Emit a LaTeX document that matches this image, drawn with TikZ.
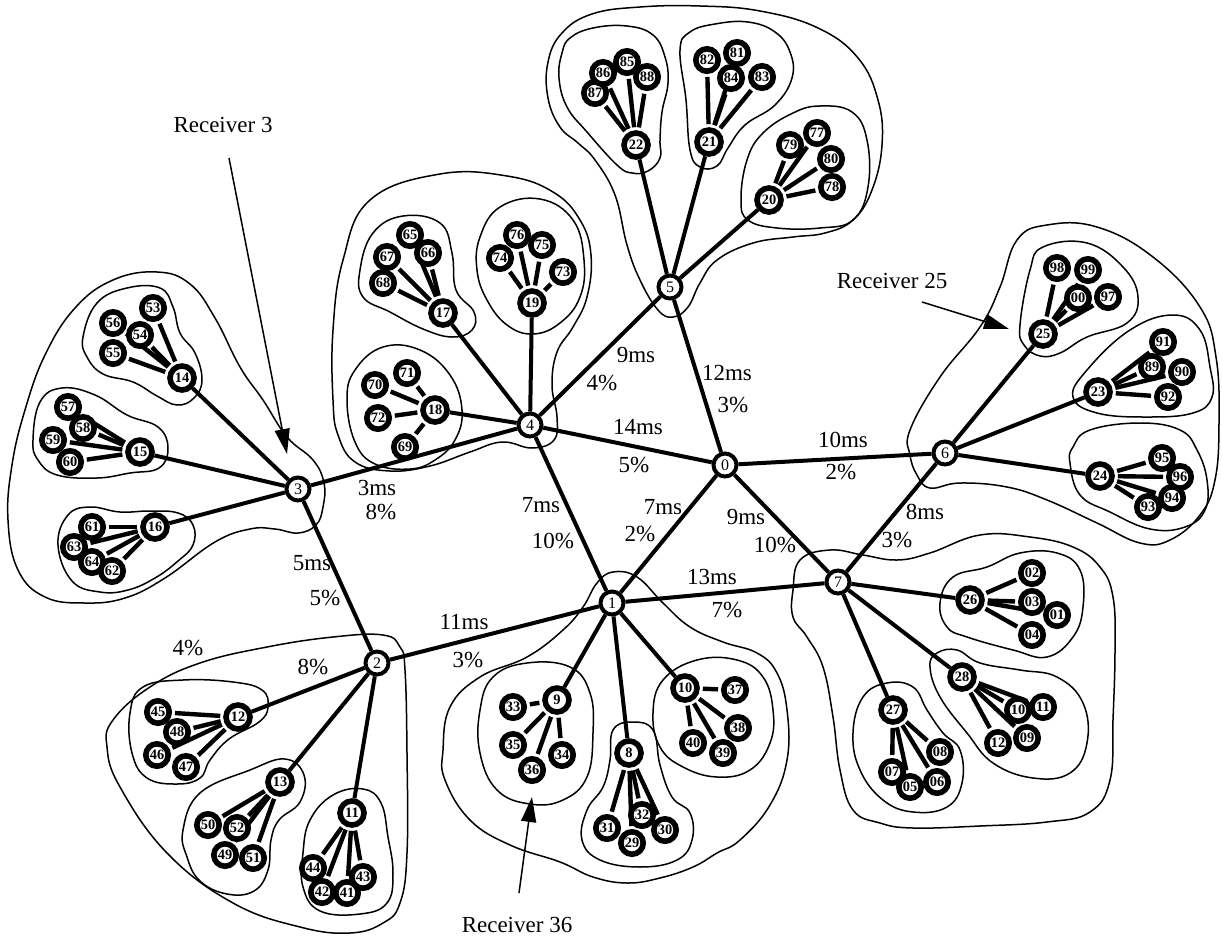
\documentclass[tikz,border=0pt]{standalone}
\usepackage{fontspec}
\setmainfont{Liberation Serif}
\usetikzlibrary{arrows.meta}
\pgfdeclarelayer{back}
\pgfsetlayers{back,main}
\newcommand\lblfont{\fontsize{11.5}{13}\selectfont}
\newcommand\hubfont{\fontsize{8}{9}\selectfont}
\newcommand\leaffont{\fontsize{7.2}{8}\selectfont\bfseries}
\begin{document}
\begin{tikzpicture}[x=0.5pt,y=-0.5pt,
  hub/.style={circle,draw,line width=2pt,fill=white,minimum size=11.5pt,inner sep=0pt,font=\hubfont},
  mid/.style={circle,draw,line width=2.8pt,fill=white,minimum size=12pt,inner sep=0pt,font=\leaffont},
  leaf/.style={circle,draw,line width=2.8pt,fill=white,minimum size=11.2pt,inner sep=0pt,font=\leaffont},
  link/.style={line width=2pt},
  twig/.style={line width=2.2pt,shorten <=1.5pt,shorten >=1.5pt},
  blob/.style={line width=0.75pt},
  lbl/.style={font=\lblfont,inner sep=0pt},
  pointer/.style={line width=0.75pt,-{Triangle[length=12.5pt,width=7.5pt]}}]
\useasboundingbox (0,0) rectangle (1222,938);

% backbone routers
\node[hub] (n0) at (725,465) {0};
\node[hub] (n1) at (612,603) {1};
\node[hub] (n2) at (377,663) {2};
\node[hub] (n3) at (298,489) {3};
\node[hub] (n4) at (530,425) {4};
\node[hub] (n5) at (670,287) {5};
\node[hub] (n6) at (945,453) {6};
\node[hub] (n7) at (838,582) {7};

% second-level routers
\foreach \n/\x/\y in {22/636/145,21/709/142,20/769/200,
  17/443/313,19/532/303,18/435/410,
  14/182/378,15/140/452,16/155/527,
  12/238/717,13/280/782,11/352/813,
  9/557/700,8/629/753,10/685/688,
  25/1043/334,23/1098/392,24/1100/476,
  26/970/600,28/962/677,27/893/710}
  \node[mid] (n\n) at (\x,\y) {\n};

% receivers
\foreach \n/\x/\y/\t in {
  87/595/93/87,86/603/73/86,85/627/62/85,88/647/77/88,
  82/707/60/82,81/737/53/81,84/731/78/84,83/762/77/83,
  79/790/145/79,77/817/133/77,80/831/159/80,78/832/187/78,
  65/410/235/65,67/387/257/67,66/428/253/66,68/383/283/68,
  76/517/235/76,75/542/245/75,74/500/258/74,73/563/272/73,
  70/375/385/70,71/407/373/71,72/378/418/72,69/405/447/69,
  53/153/308/53,56/113/323/56,54/140/335/54,55/113/353/55,
  57/68/407/57,58/83/428/58,59/53/440/59,60/70/462/60,
  61/92/527/61,63/74/547/63,64/92/562/64,62/112/571/62,
  45/158/712/45,48/177/732/48,46/157/755/46,47/186/767/47,
  50/208/825/50,52/237/828/52,49/225/855/49,51/253/858/51,
  44/313/868/44,42/322/892/42,41/347/893/41,43/363/877/43,
  33/513/707/33,35/513/745/35,36/532/770/36,34/562/755/34,
  31/607/828/31,32/642/815/32,30/665/830/30,29/632/843/29,
  37/735/690/37,38/738/728/38,39/723/753/39,40/693/743/40,
  98/1057/268/98,99/1088/270/99,100/1078/298/00,97/1108/297/97,
  91/1163/342/91,89/1152/367/89,90/1182/372/90,92/1168/397/92,
  95/1162/458/95,96/1180/477/96,94/1172/498/94,93/1148/507/93,
  102/1032/573/02,103/1032/602/03,101/1057/615/01,104/1032/635/04,
  110/1018/710/10,111/1043/707/11,112/998/743/12,109/1027/738/09,
  108/940/752/08,107/892/772/07,105/910/787/05,106/937/782/06}
  \node[leaf] (l\n) at (\x,\y) {\t};

\begin{pgfonlayer}{back}
% domain outlines
\draw[blob] plot[smooth cycle,tension=0.7] coordinates {(560,127) (548,98) (548,62) (562,33) (592,14) (640,7) (700,6) (760,11) (818,28) (858,58) (878,100) (882,145) (872,190) (853,220) (825,233) (793,237) (753,243) (717,260) (700,283) (688,307) (673,317) (658,310) (640,280) (627,245) (615,195) (595,160) (578,143)};
\draw[blob] plot[smooth cycle,tension=0.7] coordinates {(562,53) (570,38) (593,28) (627,26) (653,35) (665,57) (668,83) (662,112) (660,140) (660,158) (648,171) (632,173) (617,165) (587,132) (567,107) (559,78)};
\draw[blob] plot[smooth cycle,tension=0.7] coordinates {(680,50) (690,32) (715,24) (748,22) (775,32) (790,52) (792,78) (775,105) (745,125) (728,148) (717,166) (700,167) (690,150) (686,100)};
\draw[blob] plot[smooth cycle,tension=0.7] coordinates {(747,160) (763,133) (793,113) (820,106) (852,112) (867,140) (868,187) (853,220) (820,228) (777,228) (748,220) (741,200)};
\draw[blob] plot[smooth cycle,tension=0.7] coordinates {(333,400) (333,330) (343,260) (370,200) (440,174) (507,176) (553,192) (580,220) (591,255) (587,297) (573,327) (557,352) (552,385) (557,417) (554,440) (532,448) (502,442) (470,452) (430,466) (390,471) (355,462) (338,435)};
\draw[blob] plot[smooth cycle,tension=0.7] coordinates {(360,270) (373,233) (403,216) (440,223) (452,253) (456,290) (474,312) (472,330) (452,337) (423,329) (390,312) (363,297)};
\draw[blob] plot[smooth cycle,tension=0.7] coordinates {(477,270) (480,237) (500,207) (540,199) (573,220) (584,260) (580,297) (560,323) (533,334) (507,325) (487,300)};
\draw[blob] plot[smooth cycle,tension=0.7] coordinates {(347,400) (355,370) (383,347) (420,350) (450,375) (462,410) (455,440) (435,460) (410,469) (375,464) (355,442)};
\draw[blob] plot[smooth cycle,tension=0.7] coordinates {(113,280) (157,272) (190,284) (215,318) (240,367) (263,400) (287,437) (313,460) (324,483) (323,507) (316,525) (298,533) (275,529) (250,529) (215,542) (165,578) (125,598) (85,603) (45,597) (18,570) (8,520) (12,465) (25,410) (45,355) (75,308)};
\draw[blob] plot[smooth cycle,tension=0.7] coordinates {(83,337) (97,303) (127,288) (160,288) (173,307) (180,333) (195,353) (202,380) (194,398) (177,405) (157,396) (133,382) (103,374) (87,357)};
\draw[blob] plot[smooth cycle,tension=0.7] coordinates {(33,440) (40,402) (62,388) (95,395) (127,415) (158,427) (168,448) (159,468) (130,473) (97,478) (57,475) (38,460)};
\draw[blob] plot[smooth cycle,tension=0.7] coordinates {(58,545) (68,515) (90,507) (120,512) (150,511) (178,513) (193,525) (193,545) (178,561) (155,578) (128,590) (100,592) (72,581)};
\draw[blob] plot[smooth cycle,tension=0.7] coordinates {(383,635) (400,647) (405,670) (407,753) (407,853) (400,903) (383,923) (350,933) (300,927) (233,903) (167,853) (120,787) (107,747) (113,720) (150,687) (200,663) (267,647) (333,637)};
\draw[blob] plot[smooth cycle,tension=0.7] coordinates {(130,713) (143,687) (183,680) (233,682) (262,690) (268,707) (259,722) (229,739) (210,760) (200,778) (177,784) (147,778) (132,753)};
\draw[blob] plot[smooth cycle,tension=0.7] coordinates {(183,830) (200,793) (250,770) (285,759) (304,775) (300,802) (279,820) (271,840) (268,870) (254,891) (227,894) (200,881) (187,857)};
\draw[blob] plot[smooth cycle,tension=0.7] coordinates {(303,853) (310,820) (333,795) (363,789) (381,803) (388,837) (393,873) (387,903) (360,914) (320,911) (303,887)};
\draw[blob] plot[smooth cycle,tension=0.7] coordinates {(583,607) (597,583) (613,572) (637,577) (663,603) (690,627) (723,642) (757,653) (777,673) (787,710) (787,760) (770,805) (740,840) (717,853) (693,867) (660,878) (627,883) (593,877) (560,862) (510,845) (470,820) (445,780) (443,750) (450,707) (480,677) (527,657) (563,630)};
\draw[blob] plot[smooth cycle,tension=0.7] coordinates {(480,710) (493,677) (527,663) (570,667) (590,693) (593,733) (587,777) (563,800) (530,804) (497,790) (480,753)};
\draw[blob] plot[smooth cycle,tension=0.7] coordinates {(610,760) (613,730) (632,722) (653,730) (660,765) (672,797) (690,813) (692,840) (677,860) (640,867) (600,860) (582,840) (587,810) (603,787)};
\draw[blob] plot[smooth cycle,tension=0.7] coordinates {(653,713) (663,680) (697,660) (737,660) (763,677) (773,710) (770,743) (750,770) (717,777) (683,767) (660,747)};
\draw[blob] plot[smooth cycle,tension=0.7] coordinates {(910,430) (940,377) (980,327) (1000,287) (1017,240) (1047,225) (1097,227) (1153,257) (1200,307) (1216,357) (1219,423) (1215,480) (1200,515) (1170,540) (1140,543) (1097,523) (1047,500) (1007,487) (960,483) (930,488) (917,475) (910,455)};
\draw[blob] plot[smooth cycle,tension=0.7] coordinates {(1020,325) (1030,270) (1043,247) (1087,243) (1123,267) (1138,297) (1127,323) (1087,337) (1060,353) (1040,356) (1024,345)};
\draw[blob] plot[smooth cycle,tension=0.7] coordinates {(1073,397) (1087,370) (1130,330) (1173,315) (1200,330) (1210,367) (1212,397) (1193,413) (1147,417) (1097,413)};
\draw[blob] plot[smooth cycle,tension=0.7] coordinates {(1070,463) (1073,447) (1090,430) (1140,423) (1180,430) (1197,450) (1207,480) (1205,510) (1185,527) (1150,529) (1110,512) (1080,495)};
\draw[blob] plot[smooth cycle,tension=0.7] coordinates {(793,590) (800,560) (830,550) (863,555) (897,560) (930,553) (980,535) (1030,537) (1073,547) (1100,567) (1113,597) (1115,650) (1113,720) (1110,780) (1090,812) (1047,822) (980,826) (913,828) (880,823) (853,810) (840,770) (833,717) (823,667) (807,637) (793,617)};
\draw[blob] plot[smooth cycle,tension=0.7] coordinates {(940,603) (953,577) (987,567) (1020,553) (1057,553) (1080,570) (1083,607) (1073,637) (1047,657) (1013,650) (967,637) (947,627)};
\draw[blob] plot[smooth cycle,tension=0.7] coordinates {(930,667) (937,653) (957,650) (980,663) (1020,670) (1057,677) (1083,703) (1087,743) (1070,773) (1033,778) (993,763) (967,733) (940,697)};
\draw[blob] plot[smooth cycle,tension=0.7] coordinates {(853,733) (863,697) (887,683) (913,687) (927,710) (943,733) (960,750) (962,783) (947,807) (913,812) (883,800) (860,770)};

% backbone links
\foreach \a/\b in {0/5,0/4,0/6,0/1,0/7,4/5,3/4,4/1,3/2,2/1,1/7,6/7}
  \draw[link] (n\a) -- (n\b);
% links to second-level routers
\foreach \a/\b in {5/22,5/21,5/20,4/17,4/19,4/18,3/14,3/15,3/16,2/12,2/13,2/11,1/9,1/8,1/10,6/25,6/23,6/24,7/26,7/28,7/27}
  \draw[link] (n\a) -- (n\b);
% links to receivers
\foreach \c/\p in {85/22,86/22,87/22,88/22,81/21,82/21,83/21,84/21,77/20,78/20,79/20,80/20,
  65/17,66/17,67/17,68/17,73/19,74/19,75/19,76/19,69/18,70/18,71/18,72/18,
  53/14,54/14,55/14,56/14,57/15,58/15,59/15,60/15,61/16,62/16,63/16,64/16,
  45/12,46/12,47/12,48/12,49/13,50/13,51/13,52/13,41/11,42/11,43/11,44/11,
  33/9,34/9,35/9,36/9,29/8,30/8,31/8,32/8,37/10,38/10,39/10,40/10,
  97/25,98/25,99/25,100/25,89/23,90/23,91/23,92/23,93/24,94/24,95/24,96/24,
  101/26,102/26,103/26,104/26,109/28,110/28,111/28,112/28,105/27,106/27,107/27,108/27}
  \draw[twig] (l\c) -- (n\p);
\end{pgfonlayer}

% delay and loss labels
\node[lbl] (d45) at (636,355) {9ms};   \node[lbl] (p45) at (602,383) {4\%};
\node[lbl] (d05) at (727,373) {12ms};  \node[lbl] (p05) at (733,405) {3\%};
\node[lbl] (d04) at (638,427) {14ms};  \node[lbl] (p04) at (634,465) {5\%};
\node[lbl] (d06) at (843,440) {10ms};  \node[lbl] (p06) at (841,472) {2\%};
\node[lbl] (d34) at (377,488) {3ms};   \node[lbl] (p34) at (381,512) {8\%};
\node[lbl] (d32) at (312,563) {5ms};   \node[lbl] (p32) at (325,598) {5\%};
\node[lbl] (d41) at (541,505) {7ms};   \node[lbl] (p41) at (553,541) {10\%};
\node[lbl] (d01) at (663,507) {7ms};   \node[lbl] (p01) at (640,534) {2\%};
\node[lbl] (d07) at (746,517) {9ms};   \node[lbl] (p07) at (775,545) {10\%};
\node[lbl] (d17) at (712,577) {13ms};  \node[lbl] (p17) at (727,610) {7\%};
\node[lbl] (d21) at (464,622) {11ms};  \node[lbl] (p21) at (468,660) {3\%};
\node[lbl] (d67) at (925,512) {8ms};   \node[lbl] (p67) at (897,540) {3\%};
\node[lbl] (pa2) at (188,648) {4\%};
\node[lbl] (p212) at (313,667) {8\%};

% receiver callouts
\node[lbl] (rc3) at (223,125) {Receiver 3};
\coordinate (rc3a) at (229,158);
\coordinate (rc3b) at (287,454);
\draw[pointer] (rc3a) -- (rc3b);
\node[lbl] (rc25) at (892,281) {Receiver 25};
\coordinate (rc25a) at (922,302);
\coordinate (rc25b) at (1009,329);
\draw[pointer] (rc25a) -- (rc25b);
\node[lbl] (rc36) at (517,925) {Receiver 36};
\coordinate (rc36a) at (519,893);
\coordinate (rc36b) at (532,797);
\draw[pointer] (rc36a) -- (rc36b);
\end{tikzpicture}
\end{document}
